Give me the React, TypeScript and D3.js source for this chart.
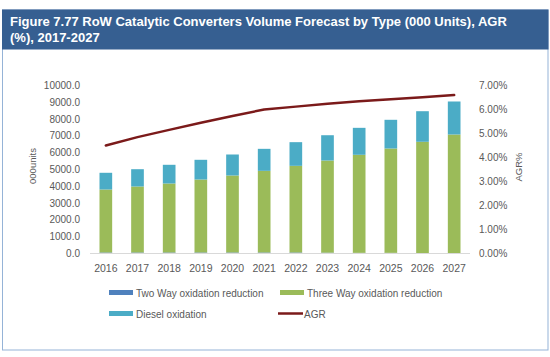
import React from "react";
import * as d3 from "d3";

const years = ["2016","2017","2018","2019","2020","2021","2022","2023","2024","2025","2026","2027"];
const twoWay = [60, 60, 60, 60, 60, 60, 60, 50, 40, 40, 10, 10];
const threeWay = [3750, 3928, 4107, 4345, 4583, 4860, 5158, 5485, 5835, 6210, 6639, 7073];
const diesel = [994, 1030, 1113, 1172, 1250, 1310, 1409, 1505, 1605, 1708, 1821, 1965];
const agr = [0.045, 0.0485, 0.0515, 0.0545, 0.0573, 0.06, 0.0612, 0.0624, 0.0634, 0.0643, 0.0651, 0.066];
const leftTicks = [0, 1000, 2000, 3000, 4000, 5000, 6000, 7000, 8000, 9000, 10000];
const rightTicks = [0, 0.01, 0.02, 0.03, 0.04, 0.05, 0.06, 0.07];

const seriesNames = ["Two Way oxidation reduction", "Three Way oxidation reduction", "Diesel oxidation"];
const colors = ["#4F81BD", "#9BBB59", "#4BACC6"];
const agrColor = "#7B1A1A";
const font = "'Liberation Sans', Arial, sans-serif";
const textColor = "#595959";

export default function App() {
  const W = 550, H = 357;
  const x = d3.scaleBand<string>().domain(years).range([90, 470]).paddingInner(0.6).paddingOuter(0.3);
  const y = d3.scaleLinear().domain([0, 10000]).range([253.5, 85.5]);
  const y2 = d3.scaleLinear().domain([0, 0.07]).range([253.5, 85.5]);

  const rows = years.map((yr, i) => ({ year: yr, a: twoWay[i], b: threeWay[i], c: diesel[i] }));
  const stacked = d3.stack<any>().keys(["a", "b", "c"])(rows);

  const line = d3.line<number>()
    .x((_, i) => (x(years[i]) as number) + x.bandwidth() / 2)
    .y((d) => y2(d));

  return (
    <svg width={W} height={H} style={{ position: "absolute", left: 0, top: 0, background: "#fff" }} fontFamily={font}>
      <rect x={2.5} y={10} width={545.5} height={340} fill="#fff" stroke="#95B3D7" strokeWidth={1} />
      <rect x={2} y={9.5} width={546.5} height={40} fill="#365F91" />
      <text x={10} y={26} fill="#fff" fontSize={13} fontWeight="bold" fontFamily="Arial, 'Liberation Sans', sans-serif">
        Figure 7.77 RoW Catalytic Converters Volume Forecast by Type (000 Units), AGR
      </text>
      <text x={10} y={42} fill="#fff" fontSize={13} fontWeight="bold" fontFamily="Arial, 'Liberation Sans', sans-serif">
        (%), 2017-2027
      </text>

      {stacked.map((s, si) => (
        <g key={si} fill={colors[si]}>
          {s.map((d, i) => (
            <rect key={i} x={x(years[i])} y={y(d[1])} width={x.bandwidth()} height={Math.max(0, y(d[0]) - y(d[1]))} />
          ))}
        </g>
      ))}

      <line x1={90} x2={470} y1={253.5} y2={253.5} stroke="#D9D9D9" strokeWidth={1} />

      <path d={line(agr) || ""} fill="none" stroke={agrColor} strokeWidth={2.5} strokeLinejoin="round" strokeLinecap="round" />

      {leftTicks.map((t) => (
        <text key={t} x={80} y={y(t)} dy="0.35em" textAnchor="end" fontSize={10} fill={textColor}>
          {d3.format(".1f")(t)}
        </text>
      ))}
      {rightTicks.map((t) => (
        <text key={t} x={479} y={y2(t)} dy="0.35em" textAnchor="start" fontSize={10} fill={textColor}>
          {d3.format(".2%")(t)}
        </text>
      ))}
      {years.map((yr) => (
        <text key={yr} x={(x(yr) as number) + x.bandwidth() / 2} y={268} dy="0.35em" textAnchor="middle" fontSize={10.5} fill={textColor}>
          {yr}
        </text>
      ))}
      <text transform="translate(33,166) rotate(-90)" textAnchor="middle" dy="0.35em" fontSize={9.5} fill={textColor}>000units</text>
      <text transform="translate(519,167) rotate(-90)" textAnchor="middle" dy="0.35em" fontSize={9.5} fill={textColor}>AGR%</text>

      <g fontSize={10} fill={textColor}>
        <rect x={109} y={290} width={24} height={5} fill={colors[0]} />
        <text x={136} y={293} dy="0.35em">{seriesNames[0]}</text>
        <rect x={280} y={290} width={24} height={5} fill={colors[1]} />
        <text x={307} y={293} dy="0.35em">{seriesNames[1]}</text>
        <rect x={109} y={311} width={24} height={5} fill={colors[2]} />
        <text x={136} y={314} dy="0.35em">{seriesNames[2]}</text>
        <line x1={278} x2={303} y1={313.5} y2={313.5} stroke={agrColor} strokeWidth={2.5} />
        <text x={304} y={314} dy="0.35em">AGR</text>
      </g>
    </svg>
  );
}
